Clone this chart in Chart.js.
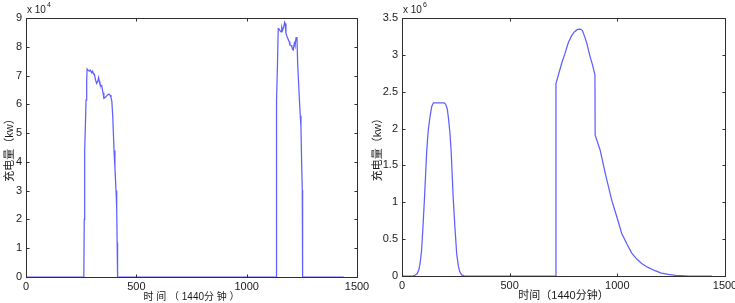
<!DOCTYPE html>
<html><head><meta charset="utf-8">
<script src="https://cdn.jsdelivr.net/npm/chart.js@4.4.0/dist/chart.umd.min.js"></script>
<style>
html,body{margin:0;padding:0;background:#fff;}
#wrap{position:relative;width:735px;height:303px;overflow:hidden;background:#fff;}
canvas{position:absolute;top:0;}
#c1{left:0;}
#c2{left:367px;}
</style></head><body>
<div id="wrap">
<canvas id="c1" width="380" height="303"></canvas>
<canvas id="c2" width="368" height="303"></canvas>
</div>
<script>
// ---- data ----
const xTicks = [0, 500, 1000, 1500];
const yTicksA = [0, 10000, 20000, 30000, 40000, 50000, 60000, 70000, 80000, 90000];
const yTicksB = [0, 500000, 1000000, 1500000, 2000000, 2500000, 3000000, 3500000];

const timeA = [0, 262, 264, 266, 270, 272, 275, 277, 282, 287, 291, 294, 298, 302, 306, 310, 315, 320, 325, 329, 332, 335, 340, 344, 349, 353, 357, 361, 368, 376, 381, 385, 389, 393, 396, 399, 403, 408, 411, 413, 415,
  1133, 1134, 1135, 1137, 1140, 1143, 1147, 1152, 1156, 1159, 1163, 1168, 1172, 1174, 1178, 1183, 1189, 1193, 1196, 1201, 1205, 1208, 1211, 1216, 1219, 1224, 1228, 1231, 1235, 1239, 1243, 1246, 1249, 1252, 1253, 1254, 1440];
const loadA = [0, 0, 20000, 44000, 55000, 61500, 68000, 72300, 71800, 71500, 71900, 71900, 71000, 71500, 70500, 70500, 68500, 67300, 68000, 69300, 68000, 67000, 66600, 66100, 64000, 62100, 62300, 62500, 63200, 63600, 63200, 62400, 61000, 56000, 50000, 44000, 38000, 30000, 24000, 12000, 0,
  0, 20000, 44000, 61500, 75000, 86300, 86200, 85500, 85200, 86800, 85800, 87000, 88500, 88100, 84700, 83500, 82400, 81800, 80600, 80500, 80000, 79100, 78900, 81200, 80400, 83200, 83300, 74300, 68000, 61500, 56000, 52200, 40000, 30200, 15000, 0, 0];

const timeB = [0, 50, 60, 70, 78, 84, 91, 98, 104, 110, 115, 122, 130, 138, 146, 195, 203, 210, 215, 222, 228, 238, 246, 254, 262, 268, 277, 290, 714, 715, 742, 757, 773, 788, 800, 815, 828, 838, 848, 858, 873, 884, 896, 897, 920, 945, 974, 1000, 1020, 1045, 1067, 1090, 1113, 1140, 1175, 1205, 1237, 1270, 1299, 1330, 1440];
const loadB = [0, 0, 10000, 30000, 80000, 170000, 350000, 700000, 1030000, 1400000, 1710000, 1980000, 2160000, 2300000, 2350000, 2350000, 2330000, 2270000, 2160000, 1960000, 1710000, 1050000, 650000, 300000, 130000, 60000, 15000, 0, 0, 2610000, 2890000, 3020000, 3170000, 3260000, 3310000, 3345000, 3350000, 3330000, 3250000, 3160000, 2980000, 2870000, 2730000, 1910000, 1710000, 1380000, 1030000, 780000, 580000, 430000, 310000, 230000, 170000, 120000, 72000, 40000, 23000, 10000, 5000, 0, 0];

const xTitleA = '时 间 （ 1440分 钟 ）';
const xTitleB = '时间（1440分钟）';
const yTitle = '充电量（kw）';

// ---- drawing ----
const FONT = '"Liberation Sans","Noto Sans CJK SC",Arial,sans-serif';
const TXT = '#1a1a1a';
const AX = '#2e2e2e';

const boxPlugin = {
  id: 'box',
  afterDatasetsDraw(chart, args, opts) {
    const {ctx, chartArea: a, scales: {x, y}} = chart;
    ctx.save();
    ctx.strokeStyle = AX; ctx.lineWidth = 1;
    const l = Math.round(a.left) + 0.5, t = Math.round(a.top) + 0.5;
    const r = Math.round(a.right) + 0.5, b = Math.round(a.bottom) + 0.5;
    ctx.strokeRect(l, t, r - l, b - t);
    const L = 3;
    ctx.beginPath();
    x.ticks.forEach(tk => {
      const px = Math.round(x.getPixelForValue(tk.value)) + 0.5;
      ctx.moveTo(px, b); ctx.lineTo(px, b - L);
      ctx.moveTo(px, t); ctx.lineTo(px, t + L);
    });
    y.ticks.forEach(tk => {
      const py = Math.round(y.getPixelForValue(tk.value)) + 0.5;
      ctx.moveTo(l, py); ctx.lineTo(l + L, py);
      ctx.moveTo(r, py); ctx.lineTo(r - L, py);
    });
    ctx.stroke();
    ctx.fillStyle = TXT;
    ctx.textBaseline = 'alphabetic';
    ctx.font = '10px ' + FONT;
    ctx.fillText('x 10', a.left + 1, a.top - 5);
    const w = ctx.measureText('x 10').width;
    ctx.font = '7px ' + FONT;
    ctx.fillText(opts.exp, a.left + 2 + w, a.top - 11);
    ctx.restore();
  }
};

function makeChart(id, xs, ys, yTicks, div, exp, xTitle, xTitleSize, yW, yTitlePad, padRight, xH) {
  const pts = xs.map((v, i) => ({x: v, y: ys[i]}));
  return new Chart(document.getElementById(id), {
    type: 'line',
    data: {datasets: [{data: pts, borderColor: 'rgb(95,95,255)', borderWidth: 1.25, pointRadius: 0, tension: 0, fill: false}]},
    options: {
      responsive: false, animation: false, parsing: true,
      layout: {padding: {left: 0, right: padRight, top: 18, bottom: 0}},
      plugins: {legend: {display: false}, tooltip: {enabled: false}, box: {exp: exp}},
      scales: {
        x: {
          type: 'linear', min: 0, max: 1500,
          afterBuildTicks: s => { s.ticks = xTicks.map(v => ({value: v})); },
          grid: {display: false, drawTicks: false}, border: {display: false},
          ticks: {color: TXT, font: {family: FONT, size: 11}, padding: 3, maxRotation: 0, autoSkip: false, callback: v => String(v)},
          title: {display: true, text: xTitle, color: TXT, font: {family: FONT, size: xTitleSize}, padding: {top: 0, bottom: 0}},
          afterFit: s => { s.height = xH; s.paddingLeft = 0; s.paddingRight = 0; }
        },
        y: {
          type: 'linear', min: 0, max: yTicks[yTicks.length - 1],
          afterBuildTicks: s => { s.ticks = yTicks.map(v => ({value: v})); },
          grid: {display: false, drawTicks: false}, border: {display: false},
          ticks: {color: TXT, font: {family: FONT, size: 11}, padding: 4, autoSkip: false, callback: v => String(v / div)},
          title: {display: true, text: yTitle, color: TXT, font: {family: FONT, size: 11}, padding: {top: yTitlePad, bottom: 0}},
          afterFit: s => { s.width = yW; s.paddingTop = 0; s.paddingBottom = 0; }
        }
      }
    },
    plugins: [boxPlugin]
  });
}

makeChart('c1', timeA, loadA, yTicksA, 10000, '4', xTitleA, 10, 26, 3.4, 23, 26);
makeChart('c2', timeB, loadB, yTicksB, 1000000, '6', xTitleB, 11, 35, 4.4, 10, 27);
</script>
</body></html>
